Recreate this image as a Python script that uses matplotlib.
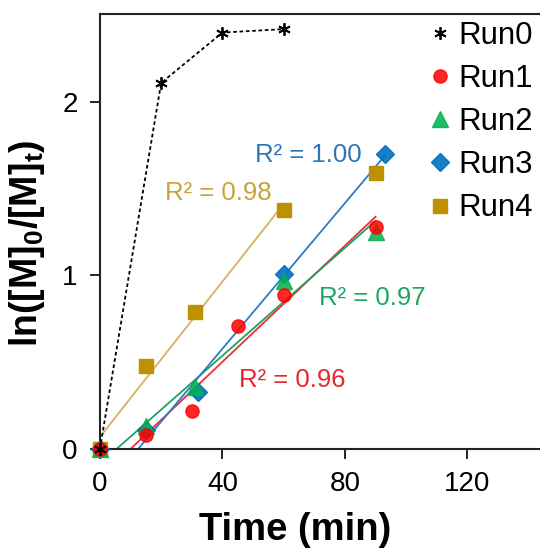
import numpy as np
import matplotlib.pyplot as plt

plt.rcParams['font.family'] = ['Liberation Sans', 'DejaVu Sans']
plt.rcParams['mathtext.fontset'] = 'custom'
plt.rcParams['mathtext.rm'] = 'Liberation Sans'
plt.rcParams['mathtext.bf'] = 'Liberation Sans:bold'

# Data
run0_t = [0, 20, 40, 60]
run0_y = [0, 2.11, 2.40, 2.42]

run1_t = [0, 15, 30, 45, 60, 90]
run1_y = [0, 0.08, 0.22, 0.71, 0.89, 1.28]

run2_t = [0, 15, 31, 60, 90]
run2_y = [0, 0.13, 0.36, 0.97, 1.25]

run3_t = [0, 15, 32, 60, 93]
run3_y = [0, 0.11, 0.33, 1.01, 1.70]

run4_t = [0, 15, 31, 60, 90]
run4_y = [0, 0.48, 0.79, 1.38, 1.59]

r2_labels = ["R² = 0.96", "R² = 0.97", "R² = 1.00", "R² = 0.98"]

W, H = 540, 552
fig = plt.figure(figsize=(W / 100, H / 100), dpi=100)
ax = fig.add_axes([0.185, 0.1866, 0.815, 0.788])

red = "#FF0000"
green = "#00B050"
blue = "#0070C0"
gold = "#BF9000"

# Run0 dashed line
ax.plot(run0_t, run0_y, color="black", ls=(0, (2, 1.5)), lw=1.3,
        marker=(6, 2, 0), ms=9, mew=1.3, label="Run0", clip_on=False, zorder=5)


def trend(t, y, i0, i1, color):
    t = np.array(t[i0:i1], dtype=float)
    y = np.array(y[i0:i1], dtype=float)
    k, b = np.polyfit(t, y, 1)
    xs = np.array([0, t[-1]])
    ax.plot(xs, k * xs + b, color=color, lw=1.3, zorder=2)


trend(run1_t, run1_y, 1, 6, "#E8303A")
trend(run2_t, run2_y, 1, 5, "#20A060")
trend(run3_t, run3_y, 1, 5, "#2E7BC4")
trend(run4_t, run4_y, 0, 4, "#D8B060")

ax.plot(run4_t, run4_y, ls="none", marker="s", ms=10, color=gold, label="Run4",
        clip_on=False, zorder=3)
ax.plot(run3_t, run3_y, ls="none", marker="D", ms=9, color=blue, label="Run3",
        clip_on=False, zorder=4, alpha=0.9)
ax.plot(run2_t, run2_y, ls="none", marker="^", ms=11, color=green, label="Run2",
        clip_on=False, zorder=4, alpha=0.85)
ax.plot(run1_t, run1_y, ls="none", marker="o", ms=9.5, color=red, label="Run1",
        clip_on=False, zorder=4, alpha=0.85)


def label(px, py, s, color):
    fig.text(px / W, 1 - py / H, s, fontsize=18.5, color=color,
             va="center", ha="left")


label(239, 380, r2_labels[0], "#E8262F")
label(319, 298, r2_labels[1], "#22A466")
label(255, 155, r2_labels[2], "#2E75B6")
label(165, 193, r2_labels[3], "#C9A23A")

ax.set_xlim(0, 143.7)
ax.set_ylim(0, 2.507)
ax.set_xticks([0, 40, 80, 120])
ax.set_yticks([0, 1, 2])
ax.tick_params(labelsize=20, length=7, width=1.2, direction="out", pad=9)
ax.spines["right"].set_visible(False)
for s in ["left", "bottom", "top"]:
    ax.spines[s].set_linewidth(1.5)
    ax.spines[s].set_color("#222222")

fig.text(295 / W, 1 - 530 / H, "Time (min)", fontsize=27.5, fontweight="bold",
         ha="center", va="center")
fig.text(27 / W, 1 - 243 / H, r"ln([M]$_\mathbf{0}$/[M]$_\mathbf{t}$)",
         fontsize=27, fontweight="bold", ha="center", va="center",
         rotation=90)

h, l = ax.get_legend_handles_labels()
order = [0, 4, 3, 2, 1]
leg = ax.legend([h[i] for i in order], [l[i] for i in order], loc="upper right",
                bbox_to_anchor=(1.02, 1.02), frameon=False, fontsize=22.5,
                handlelength=0.6, handletextpad=0.3, labelspacing=0.42,
                borderaxespad=0.1, markerscale=1.0)
for lh in leg.legend_handles[:1]:
    lh.set_linestyle("none")

fig.savefig("out.png", dpi=100)
